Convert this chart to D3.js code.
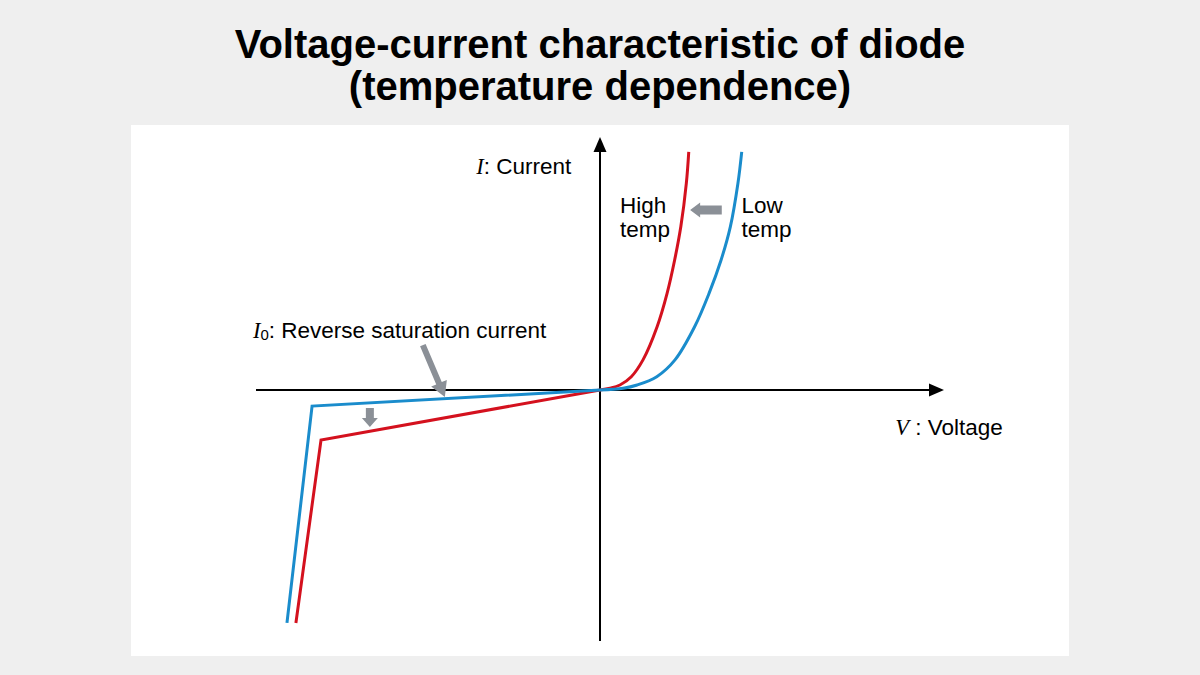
<!DOCTYPE html>
<html>
<head>
<meta charset="utf-8">
<script src="https://cdn.jsdelivr.net/npm/d3@7"></script>
<style>
  body { margin: 0; background: #efefef; }
  svg { display: block; font-family: "Liberation Sans", Arial, sans-serif; }
</style>
</head>
<body>
<div class="chart"></div>
<script>
// curves, in arbitrary units (V, I)
var lowReverse = [[-0.910, -0.928], [-0.837, -0.064], [0, 0]];
var lowForward = [[0, 0], [0.067, 0.007], [0.108, 0.020], [0.165, 0.053], [0.218, 0.120],
                  [0.275, 0.252], [0.317, 0.385], [0.352, 0.518], [0.379, 0.651], [0.401, 0.824], [0.412, 0.949]];
var highReverse = [[-0.884, -0.928], [-0.811, -0.199], [0, 0]];
var highForward = [[0, 0], [0.029, 0.007], [0.058, 0.020], [0.091, 0.053], [0.125, 0.120],
                   [0.166, 0.252], [0.195, 0.385], [0.217, 0.518], [0.235, 0.651], [0.251, 0.824], [0.258, 0.949]];

// gray hint arrows: [from, to]
var hintArrows = [
    [[-0.515, 0.179], [-0.451, -0.028]],
    [[-0.669, -0.072], [-0.669, -0.147]],
    [[0.354, 0.717], [0.262, 0.717]]
];

var titleLines = ["Voltage-current characteristic of diode", "(temperature dependence)"];

var W = 1200, H = 675;
var panel = {x: 131, y: 125, w: 938, h: 531};

var xScale = d3.scaleLinear().domain([-1, 1]).range([256, 944]);
var yScale = d3.scaleLinear().domain([-1, 1]).range([641, 139]);

var blue = "#1a8ccc", red = "#d4111e", gray = "#8b9097";

var svg = d3.select("div.chart").append("svg")
    .attr("width", W)
    .attr("height", H);

svg.append("rect")
    .attr("x", panel.x).attr("y", panel.y)
    .attr("width", panel.w).attr("height", panel.h)
    .attr("fill", "#fff");

// title
svg.append("g").selectAll("text")
    .data(titleLines)
    .enter().append("text")
    .attr("x", W / 2)
    .attr("y", function(d, i) { return 58 + i * 42; })
    .attr("text-anchor", "middle")
    .style("font-size", "40px")
    .style("font-weight", "bold")
    .text(function(d) { return d; });

// axes with arrow heads
function triangle(tip, dir, len, half) {
    // dir: unit vector pointing toward the tip
    var bx = tip[0] - dir[0] * len, by = tip[1] - dir[1] * len;
    return "M" + tip[0] + "," + tip[1] +
        "L" + (bx - dir[1] * half) + "," + (by + dir[0] * half) +
        "L" + (bx + dir[1] * half) + "," + (by - dir[0] * half) + "Z";
}

svg.append("line")
    .attr("x1", xScale(-1)).attr("y1", yScale(0))
    .attr("x2", xScale(1) - 10).attr("y2", yScale(0))
    .attr("stroke", "#000").attr("stroke-width", 2);
svg.append("path")
    .attr("d", triangle([xScale(1), yScale(0)], [1, 0], 15, 6.5))
    .attr("fill", "#000");

svg.append("line")
    .attr("x1", xScale(0)).attr("y1", yScale(-1))
    .attr("x2", xScale(0)).attr("y2", yScale(1) + 10)
    .attr("stroke", "#000").attr("stroke-width", 2);
svg.append("path")
    .attr("d", triangle([xScale(0), yScale(1) - 2], [0, -1], 15, 6.5))
    .attr("fill", "#000");

// curves
var straight = d3.line()
    .x(function(d) { return xScale(d[0]); })
    .y(function(d) { return yScale(d[1]); });
var smooth = d3.line()
    .x(function(d) { return xScale(d[0]); })
    .y(function(d) { return yScale(d[1]); })
    .curve(d3.curveCatmullRom.alpha(0.5));

var curves = [
    {data: highReverse, gen: straight, color: red},
    {data: highForward, gen: smooth, color: red},
    {data: lowReverse, gen: straight, color: blue},
    {data: lowForward, gen: smooth, color: blue}
];

svg.append("g").selectAll("path")
    .data(curves)
    .enter().append("path")
    .attr("d", function(c) { return c.gen(c.data); })
    .attr("fill", "none")
    .attr("stroke", function(c) { return c.color; })
    .attr("stroke-width", 3)
    .attr("stroke-linejoin", "miter");

// block arrows
function blockArrow(a, b, shaft, head, headLen) {
    var x1 = xScale(a[0]), y1 = yScale(a[1]), x2 = xScale(b[0]), y2 = yScale(b[1]);
    var dx = x2 - x1, dy = y2 - y1, L = Math.sqrt(dx * dx + dy * dy);
    var ux = dx / L, uy = dy / L, nx = -uy, ny = ux;
    var bx = x2 - ux * headLen, by = y2 - uy * headLen;
    var pts = [
        [x1 + nx * shaft / 2, y1 + ny * shaft / 2],
        [bx + nx * shaft / 2, by + ny * shaft / 2],
        [bx + nx * head / 2, by + ny * head / 2],
        [x2, y2],
        [bx - nx * head / 2, by - ny * head / 2],
        [bx - nx * shaft / 2, by - ny * shaft / 2],
        [x1 - nx * shaft / 2, y1 - ny * shaft / 2]
    ];
    return "M" + pts.map(function(p) { return p.join(","); }).join("L") + "Z";
}

var arrowSizes = [[6, 17, 15], [8, 16, 9], [9, 15, 10]];
svg.append("g").selectAll("path")
    .data(hintArrows)
    .enter().append("path")
    .attr("d", function(d, i) {
        var s = arrowSizes[i];
        return blockArrow(d[0], d[1], s[0], s[1], s[2]);
    })
    .attr("fill", gray);

// labels
var labels = svg.append("g").style("font-size", "22.5px");

var cur = labels.append("text").attr("x", xScale(-0.360)).attr("y", yScale(0.862));
cur.append("tspan").style("font-family", "'Liberation Serif', serif").style("font-style", "italic").text("I");
cur.append("tspan").text(": Current");

var sat = labels.append("text").attr("x", xScale(-1.009)).attr("y", yScale(0.207));
sat.append("tspan").style("font-family", "'Liberation Serif', serif").style("font-style", "italic").text("I");
sat.append("tspan").attr("dy", 2).style("font-size", "15px").text("0");
sat.append("tspan").attr("dy", -2).text(": Reverse saturation current");

var volt = labels.append("text").attr("x", xScale(0.858)).attr("y", yScale(-0.179));
volt.append("tspan").style("font-family", "'Liberation Serif', serif").style("font-style", "italic").text("V");
volt.append("tspan").text(" : Voltage");

[["High", "temp", 0.058], ["Low", "temp", 0.411]].forEach(function(l) {
    var t = labels.append("text").attr("x", xScale(l[2])).attr("y", yScale(0.705));
    t.append("tspan").text(l[0]);
    t.append("tspan").attr("x", xScale(l[2])).attr("dy", 23.5).text(l[1]);
});
</script>
</body>
</html>
